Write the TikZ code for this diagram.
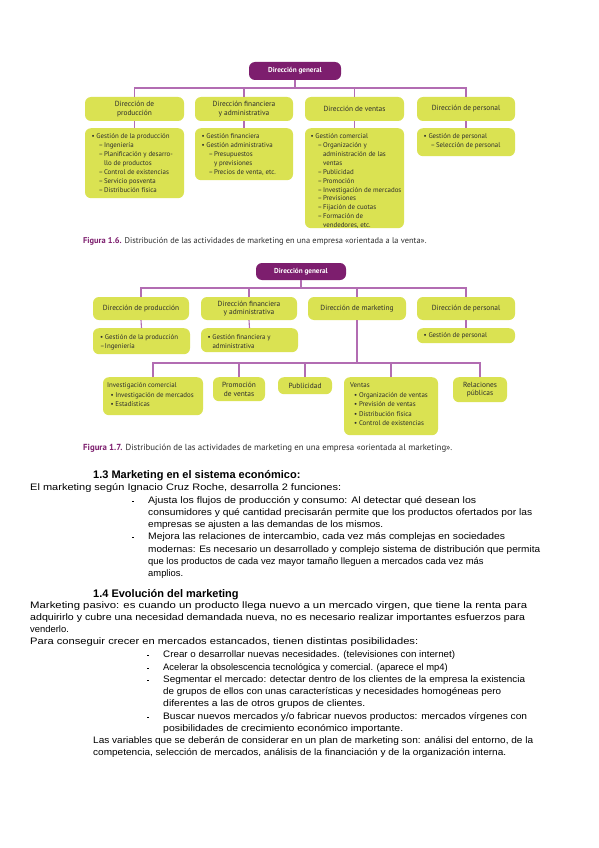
\documentclass[tikz,border=0pt]{standalone}
\usepackage{graphicx}
\usepackage{fontspec}
\setmainfont{Liberation Sans}
\newfontfamily\diagfont{PT Sans}
\definecolor{lime}{RGB}{218,226,82}
\definecolor{purp}{RGB}{125,30,110}
\definecolor{pline}{RGB}{178,108,178}
\definecolor{btext}{RGB}{45,45,45}
\newcommand\mybul[1]{\makebox[4.8pt][l]{•}#1}
\newcommand\mydash[1]{\hspace*{7pt}\makebox[5.3pt][l]{–}#1}
\newcommand\mycont[1]{\hspace*{12.3pt}#1}
\newcommand\bodybul{\raisebox{1.5pt}{\rule{2.2pt}{0.6pt}}}
\newcommand\fitw[2]{\resizebox{#1pt}{\height}{#2}}
\tikzset{
  box/.style={fill=lime, rounded corners=6pt, inner sep=0pt},
  gen/.style={fill=purp, rounded corners=6pt, text=white, inner sep=0pt, font=\diagfont\bfseries\fontsize{7.2}{8}\selectfont},
  conn/.style={draw=pline, line width=1.1pt},
  lbl/.style={font=\diagfont\fontsize{7.4}{8.6}\selectfont, text=btext, align=center, inner sep=0pt},
  itm/.style={font=\diagfont\fontsize{6.9}{8.9}\selectfont, text=btext, align=left, anchor=north west, inner sep=0pt},
  itmb/.style={font=\diagfont\fontsize{6.9}{9.6}\selectfont, text=btext, align=left, anchor=north west, inner sep=0pt},
  figcap/.style={font=\diagfont\fontsize{8.4}{9}\selectfont, text=btext, anchor=base west, inner sep=0pt},
  body/.style={font=\fontsize{9.4}{11}\selectfont, anchor=base west, inner sep=0pt},
  head/.style={font=\bfseries\fontsize{11}{13}\selectfont, anchor=base west, inner sep=0pt}
}
\begin{document}
\begin{tikzpicture}[x=1pt,y=-1pt]
\useasboundingbox (0,0) rectangle (599,848);
\fill[white] (0,0) rectangle (599,848);

% ================= Figure 1.6 =================
\node[gen, minimum width=92pt, minimum height=18pt] (g1) at (295,71) {Dirección general};
\coordinate (bus1) at (0,88);
\node[box, minimum width=99pt, minimum height=24pt] (a1) at (134.5,109) {};
\node[box, minimum width=98pt, minimum height=24pt] (a2) at (244,109) {};
\node[box, minimum width=99pt, minimum height=24pt] (a3) at (354.5,109) {};
\node[box, minimum width=98pt, minimum height=24pt] (a4) at (466,109) {};
\node[lbl] (a1t) at (a1) {Dirección de\\producción};
\node[lbl] (a2t) at (a2) {Dirección financiera\\y administrativa};
\node[lbl] (a3t) at (a3) {Dirección de ventas};
\node[lbl] (a4t) at (a4) {Dirección de personal};

\node[box, minimum width=99pt, minimum height=70pt, anchor=north] (b1) at (134.5,128) {};
\node[box, minimum width=98pt, minimum height=52pt, anchor=north] (b2) at (244,128) {};
\node[box, minimum width=99pt, minimum height=100pt, anchor=north] (b3) at (354.5,128) {};
\node[box, minimum width=98pt, minimum height=28pt, anchor=north] (b4) at (466,128) {};

\draw[conn] (g1.south) -- (g1.south |- bus1);
\draw[conn] (a1.north) -- (a1.north |- bus1) -- (a4.north |- bus1) -- (a4.north);
\draw[conn] (a2.north) -- (a2.north |- bus1);
\draw[conn] (a3.north) -- (a3.north |- bus1);
\draw[conn] (a1.south) -- (b1.north);
\draw[conn] (a2.south) -- (b2.north);
\draw[conn] (a3.south) -- (b3.north);
\draw[conn] (a4.south) -- (b4.north);

\node[itm] (b1t) at (91.5,133.5) {\mybul{Gestión de la producción}\\
\mydash{Ingeniería}\\
\mydash{Planificación y desarro-}\\
\mycont{llo de productos}\\
\mydash{Control de existencias}\\
\mydash{Servicio posventa}\\
\mydash{Distribución física}};
\node[itm] (b2t) at (201.5,133.5) {\mybul{Gestión financiera}\\
\mybul{Gestión administrativa}\\
\mydash{Presupuestos}\\
\mycont{y previsiones}\\
\mydash{Precios de venta, etc.}};
\node[itm] (b3t) at (310.5,133.5) {\mybul{Gestión comercial}\\
\mydash{Organización y}\\
\mycont{administración de las}\\
\mycont{ventas}\\
\mydash{Publicidad}\\
\mydash{Promoción}\\
\mydash{Investigación de mercados}\\
\mydash{Previsiones}\\
\mydash{Fijación de cuotas}\\
\mydash{Formación de}\\
\mycont{vendedores, etc.}};
\node[itm] (b4t) at (423.5,133.5) {\mybul{Gestión de personal}\\
\mydash{Selección de personal}};

\node[figcap] (cap1) at (83,243) {\textcolor{purp}{\bfseries Figura 1.6.} Distribución de las actividades de marketing en una empresa «orientada a la venta».};

% ================= Figure 1.7 =================
\node[gen, minimum width=90pt, minimum height=17pt] (g2) at (301,271.5) {Dirección general};
\coordinate (bus2) at (0,288);
\node[box, minimum width=96pt, minimum height=23pt] (c1) at (141,308.5) {};
\node[box, minimum width=96pt, minimum height=23pt] (c2) at (249,308.5) {};
\node[box, minimum width=98pt, minimum height=23pt] (c3) at (357,308.5) {};
\node[box, minimum width=98pt, minimum height=23pt] (c4) at (466,308.5) {};
\node[lbl] (c1t) at (c1) {Dirección de producción};
\node[lbl] (c2t) at (c2) {Dirección financiera\\y administrativa};
\node[lbl] (c3t) at (c3) {Dirección de marketing};
\node[lbl] (c4t) at (c4) {Dirección de personal};

\node[box, minimum width=97pt, minimum height=26pt, anchor=north] (d1) at (141.5,328) {};
\node[box, minimum width=97pt, minimum height=24pt, anchor=north] (d2) at (249.5,328) {};
\node[box, minimum width=98pt, minimum height=15pt, anchor=north] (d4) at (466,328) {};

\draw[conn] (g2.south) -- (g2.south |- bus2);
\draw[conn] (c1.north) -- (c1.north |- bus2) -- (c4.north |- bus2) -- (c4.north);
\draw[conn] (c2.north) -- (c2.north |- bus2);
\draw[conn] (c3.north) -- (c3.north |- bus2);
\draw[conn] (c1.south) -- (d1.north);
\draw[conn] (c2.south) -- (d2.north);
\draw[conn] (c4.south) -- (d4.north);

\node[itm] (d1t) at (100,334.5) {\mybul{Gestión de la producción}\\
\makebox[4.8pt][l]{–}Ingeniería};
\node[itm] (d2t) at (207.5,334.5) {\mybul{Gestión financiera y}\\
\hspace*{4.8pt}administrativa};
\node[itm, anchor=west] (d4t) at (423.5,335.5) {\mybul{Gestión de personal}};

\coordinate (bus3) at (0,363);
\node[box, minimum width=100pt, minimum height=38pt, anchor=north] (e1) at (153,377) {};
\node[box, minimum width=52pt, minimum height=24pt, anchor=north] (e2) at (239,377) {};
\node[box, minimum width=54pt, minimum height=17pt, anchor=north] (e3) at (305,377) {};
\node[box, minimum width=94pt, minimum height=58pt, anchor=north] (e4) at (391,377) {};
\node[box, minimum width=54pt, minimum height=25pt, anchor=north] (e5) at (480,377) {};

\draw[conn] (c3.south) -- (c3.south |- bus3);
\draw[conn] (e1.north) -- (e1.north |- bus3) -- (e5.north |- bus3) -- (e5.north);
\draw[conn] (e2.north) -- (e2.north |- bus3);
\draw[conn] (e3.north) -- (e3.north |- bus3);
\draw[conn] (e4.north) -- (e4.north |- bus3);

\node[itmb] (e1t) at (107,382.5) {Investigación comercial\\
\hspace*{3.4pt}\mybul{Investigación de mercados}\\
\hspace*{3.4pt}\mybul{Estadísticas}};
\node[lbl] (e2t) at (e2) {Promoción\\de ventas};
\node[lbl] (e3t) at (e3) {Publicidad};
\node[itmb] (e4t) at (350,382.5) {Ventas\\
\hspace*{4pt}\mybul{Organización de ventas}\\
\hspace*{4pt}\mybul{Previsión de ventas}\\
\hspace*{4pt}\mybul{Distribución física}\\
\hspace*{4pt}\mybul{Control de existencias}};
\node[lbl] (e5t) at (e5) {Relaciones\\públicas};

\node[figcap, font=\diagfont\fontsize{8.8}{9}\selectfont] (cap2) at (83,450) {\textcolor{purp}{\bfseries Figura 1.7.} Distribución de las actividades de marketing en una empresa «orientada al marketing».};

% ================= Text =================
\node[head] (h13) at (93,478) {1.3 Marketing en el sistema económico:};
\node[body] (l01) at (30,490) {\fitw{311}{El marketing según Ignacio Cruz Roche, desarrolla 2 funciones:}};
\node[body] (m01) at (132,503) {\bodybul};
\node[body] (l02) at (148,503) {\fitw{328}{Ajusta los flujos de producción y consumo: Al detectar qué desean los}};
\node[body] (l03) at (148,515) {\fitw{384}{consumidores y qué cantidad precisarán permite que los productos ofertados por las}};
\node[body] (l04) at (148,527) {\fitw{235}{empresas se ajusten a las demandas de los mismos.}};
\node[body] (m02) at (132,539) {\bodybul};
\node[body] (l05) at (148,539) {\fitw{357}{Mejora las relaciones de intercambio, cada vez más complejas en sociedades}};
\node[body] (l06) at (148,552) {\fitw{392}{modernas: Es necesario un desarrollado y complejo sistema de distribución que permita}};
\node[body] (l07) at (148,564) {que los productos de cada vez mayor tamaño lleguen a mercados cada vez más};
\node[body] (l08) at (148,576) {amplios.};

\node[head] (h14) at (93,597) {1.4 Evolución del marketing};
\node[body] (l09) at (30,608) {\fitw{497}{Marketing pasivo: es cuando un producto llega nuevo a un mercado virgen, que tiene la renta para}};
\node[body] (l10) at (30,620) {\fitw{495}{adquirirlo y cubre una necesidad demandada nueva, no es necesario realizar importantes esfuerzos para}};
\node[body] (l11) at (30,632) {venderlo.};
\node[body] (l12) at (30,644) {\fitw{388}{Para conseguir crecer en mercados estancados, tienen distintas posibilidades:}};
\node[body] (m03) at (147,657) {\bodybul};
\node[body] (l13) at (163,657) {\fitw{292}{Crear o desarrollar nuevas necesidades. (televisiones con internet)}};
\node[body] (m04) at (147,670) {\bodybul};
\node[body] (l14) at (163,670) {Acelerar la obsolescencia tecnológica y comercial. (aparece el mp4)};
\node[body] (m05) at (147,682) {\bodybul};
\node[body] (l15) at (163,682) {\fitw{362}{Segmentar el mercado: detectar dentro de los clientes de la empresa la existencia}};
\node[body] (l16) at (163,694) {\fitw{338}{de grupos de ellos con unas características y necesidades homogéneas pero}};
\node[body] (l17) at (163,706) {\fitw{202}{diferentes a las de otros grupos de clientes.}};
\node[body] (m06) at (147,719) {\bodybul};
\node[body] (l18) at (163,719) {\fitw{364}{Buscar nuevos mercados y/o fabricar nuevos productos: mercados vírgenes con}};
\node[body] (l19) at (163,731) {\fitw{240}{posibilidades de crecimiento económico importante.}};
\node[body] (l20) at (93,743) {\fitw{440}{Las variables que se deberán de considerar en un plan de marketing son: análisi del entorno, de la}};
\node[body] (l21) at (93,755) {\fitw{413}{competencia, selección de mercados, análisis de la financiación y de la organización interna.}};
\end{tikzpicture}
\end{document}
